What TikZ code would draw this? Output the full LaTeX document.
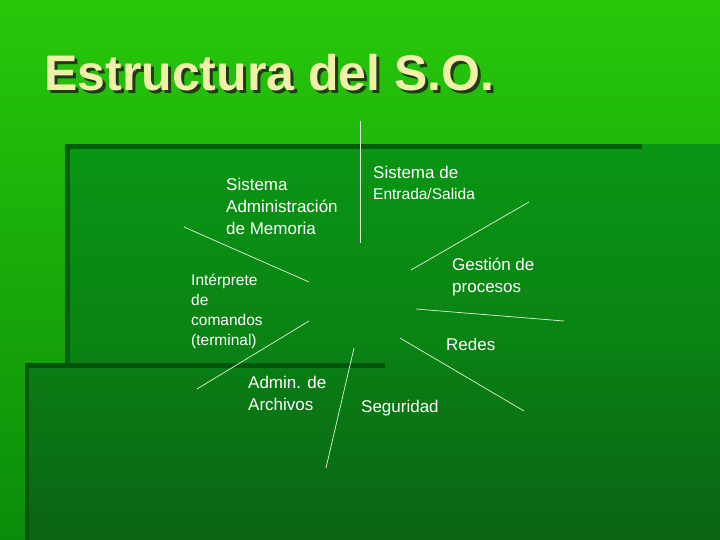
\documentclass[tikz,border=0pt]{standalone}
\usepackage{fontspec}
\setmainfont{Liberation Sans}
\definecolor{bgtop}{RGB}{40,200,10}
\definecolor{bgbot}{RGB}{10,140,10}
\definecolor{r1top}{RGB}{10,150,20}
\definecolor{r1bot}{RGB}{10,110,20}
\definecolor{r2top}{RGB}{10,125,20}
\definecolor{r2bot}{RGB}{10,100,20}
\definecolor{edge1}{RGB}{0,95,10}
\definecolor{edge2}{RGB}{0,85,10}
\definecolor{titlec}{RGB}{240,240,170}
\definecolor{shadowc}{RGB}{30,60,20}
\definecolor{rayc}{RGB}{225,245,220}
\begin{document}
\begin{tikzpicture}[x=1pt,y=-1pt,
  lbl/.style={text=white,anchor=north west,align=left,inner sep=0pt,font=\fontsize{17}{22}\selectfont},
  lite/.style={text=white,anchor=north west,align=left,inner sep=0pt,font=\fontsize{15.5}{20}\selectfont},
  ray/.style={draw=rayc,line width=0.7pt}]
\useasboundingbox (0,0) rectangle (720,540);
\shade[top color=bgtop,bottom color=bgbot] (0,0) rectangle (720,540);
\shade[top color=r1top,bottom color=r1bot] (65,145) rectangle (720,540);
\fill[edge1] (65,144) rectangle (642,149);
\fill[edge1] (65,144) rectangle (70,540);
\shade[top color=r2top,bottom color=r2bot] (25,364) rectangle (720,540);
\fill[edge2] (25,363) rectangle (385,368);
\fill[edge2] (25,363) rectangle (29,540);
\node[anchor=base west,inner sep=0pt,font=\fontsize{50}{56}\bfseries,text=shadowc] (tsh) at (47,94) {Estructura del S.O.};
\node[anchor=base west,inner sep=0pt,font=\fontsize{50}{56}\bfseries,text=titlec] (title) at (44,91) {Estructura del S.O.};
\node[lbl] (mem) at (226,178) {Sistema\\Administración\\de Memoria};
\node[lbl] (es1) at (373,166) {Sistema de};
\node[lite] (es2) at (373,188) {Entrada/Salida};
\node[lbl] (gp) at (452,258) {Gestión de\\procesos};
\node[lite] (int) at (191,274) {Intérprete\\de\\comandos\\(terminal)};
\node[lbl] (red) at (446,338) {Redes};
\node[lbl] (arch) at (248,376) {Admin. de\\Archivos};
\node[lbl] (seg) at (361,400) {Seguridad};
\coordinate (a1) at (360,121); \coordinate (b1) at (360,243);
\coordinate (a2) at (184,227); \coordinate (b2) at (309,282);
\coordinate (a3) at (529,202); \coordinate (b3) at (411,270);
\coordinate (a4) at (416,309); \coordinate (b4) at (564,321);
\coordinate (a5) at (309,321); \coordinate (b5) at (197,389);
\coordinate (a6) at (354,348); \coordinate (b6) at (326,468);
\coordinate (a7) at (400,338); \coordinate (b7) at (524,411);
\foreach \i in {1,...,7} \draw[ray] (a\i) -- (b\i);
\end{tikzpicture}
\end{document}
